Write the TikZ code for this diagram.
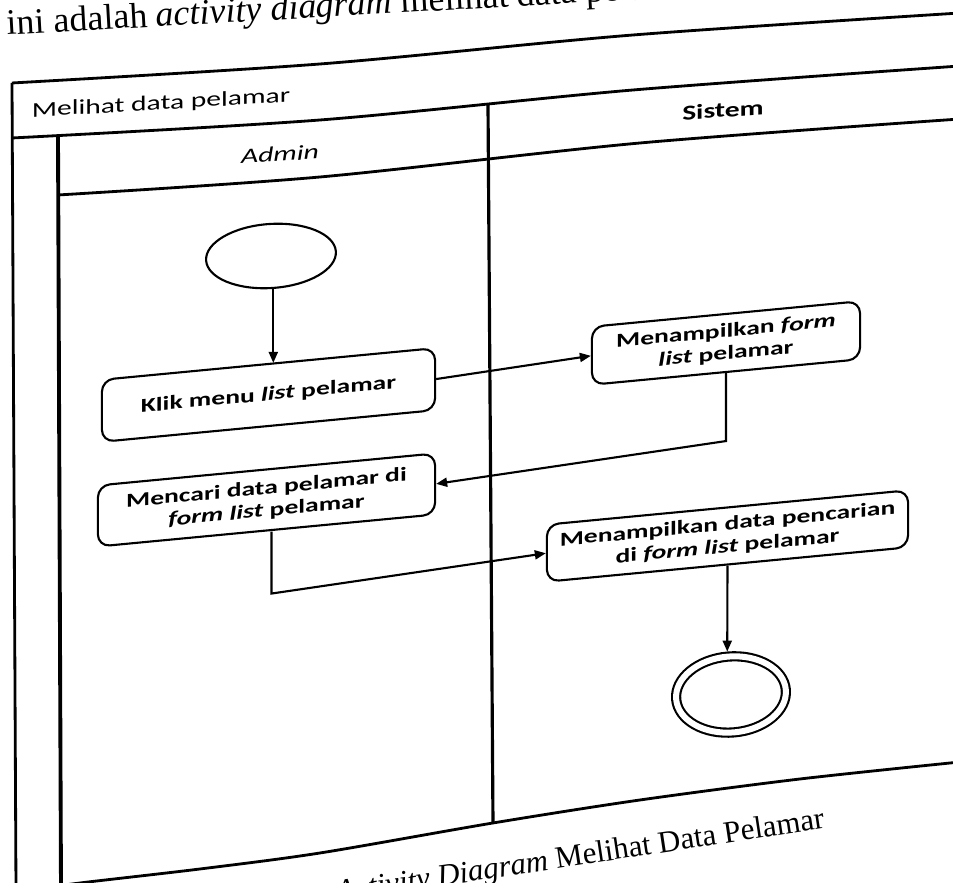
\documentclass[tikz,border=0pt]{standalone}
\usepackage{fontspec}
\setmainfont{Liberation Serif}
\newfontfamily\diafont[FakeStretch=1.4]{Carlito}
\usetikzlibrary{arrows.meta,shapes.geometric}

\tikzset{
  frame/.style={line width=0.8pt},
  act/.style={draw, line width=0.6pt, rounded corners=0.12cm, inner sep=0pt,
    align=center, yslant=0.095, font=\diafont\bfseries\fontsize{5.6}{6.4}\selectfont},
  initial/.style={draw, ellipse, line width=0.6pt, inner sep=0pt,
    minimum width=1.30cm, minimum height=0.64cm, rotate=4},
  final/.style={draw, ellipse, double, double distance=0.06cm, line width=0.6pt,
    inner sep=0pt, outer sep=0.05cm, minimum width=1.10cm, minimum height=0.76cm, rotate=5},
  flow/.style={line width=0.6pt, -{Triangle[length=0.11cm,width=0.09cm]}},
  lanetitle/.style={inner sep=0pt, font=\diafont\fontsize{6}{7}\selectfont},
}

\begin{document}
\begin{tikzpicture}[x=0.01cm, y=-0.01cm]
  \useasboundingbox (0,0) rectangle (953,883);
  \clip (0,0) rectangle (953,883);

  % line of body text above the figure
  \node[anchor=base west, rotate=3.2, inner sep=0pt, font=\fontsize{10.2}{12}\selectfont]
    (intro) at (7,35) {ini adalah \textit{activity diagram} melihat data pelamar};

  % swimlane frame
  \draw[frame] plot[smooth] coordinates {(12,83) (320,64) (633,35) (960,13)};
  \draw[frame] plot[smooth] coordinates {(12,138) (320,120) (633,90) (960,66)};
  \draw[frame] plot[smooth] coordinates {(58,195) (320,177) (640,143) (960,119)};
  \draw[frame] (12,83) -- (16,890);
  \draw[frame, line width=1.1pt] (58,136) -- (61,890);
  \draw[frame, line width=0.9pt] (488,104) -- (493,823);
  \draw[frame] plot[smooth] coordinates {(30,890) (80,883) (200,869) (320,853)
    (493,823) (640,800) (800,779) (960,762)};

  % lane titles
  \node[lanetitle, yslant=0.06] (title) at (161,104) {Melihat data pelamar};
  \node[lanetitle, yslant=0.07, font=\diafont\itshape\fontsize{6}{7}\selectfont] (admin) at (280,154) {Admin};
  \node[lanetitle, yslant=0.075, font=\diafont\bfseries\fontsize{6}{7}\selectfont] (sistem) at (723,110) {Sistem};

  % activities
  \node[initial] (start) at (271,256) {};
  \node[act, minimum width=3.33cm, minimum height=0.62cm] (klik) at (268.5,395)
    {Klik menu \textit{list} pelamar};
  \node[act, minimum width=2.68cm, minimum height=0.58cm] (form) at (726,343)
    {Menampilkan \textit{form}\\\textit{list} pelamar};
  \node[act, minimum width=3.37cm, minimum height=0.61cm] (cari) at (266.5,500)
    {Mencari data pelamar di\\\textit{form list} pelamar};
  \node[act, minimum width=3.61cm, minimum height=0.57cm] (hasil) at (727.5,536)
    {Menampilkan data pencarian\\di \textit{form list} pelamar};
  \node[final] (end) at (731,694.5) {};

  % control flow
  \draw[flow] (start.south) -- (start.south |- klik.north);
  \draw[flow] (klik.east) -- (form.west);
  \draw[flow] (form.south) -- ++(0,68) -- (cari.east);
  \draw[flow] ([xshift=0.05cm]cari.south) -- ++(0,62) -- (hasil.west);
  \draw[flow] (hasil.south) -- (end.north);

  % caption, bent with the page
  \node[anchor=base west, rotate=8.6, inner sep=0pt, font=\fontsize{8.8}{10}\selectfont]
    (caption) at (337,902) {\textit{Activity Diagram} Melihat Data Pelamar};
\end{tikzpicture}
\end{document}
